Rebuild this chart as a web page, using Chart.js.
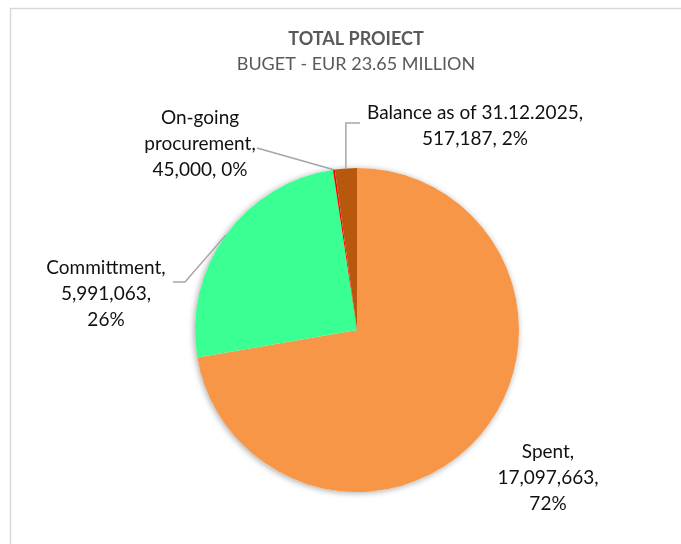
<!DOCTYPE html>
<html>
<head>
<meta charset="utf-8">
<script src="https://cdn.jsdelivr.net/npm/chart.js@4.4.1/dist/chart.umd.min.js"></script>
<style>
  html, body { margin: 0; padding: 0; background: #fff; }
  #wrap { position: relative; width: 681px; height: 544px; }
</style>
</head>
<body>
<div id="wrap"><canvas id="budgetChart" width="681" height="544"></canvas></div>
<script>
// data
const categories = ["Spent", "Committment", "On-going procurement", "Balance as of 31.12.2025"];
const amounts = [17097663, 5991063, 45000, 517187];
const percents = ["72%", "26%", "0%", "2%"];
const sliceColors = ["#F79646", "#3AFF92", "#FF0000", "#B8580C"];

const titleText = "TOTAL PROIECT";
const subtitleText = "BUGET - EUR 23.65 MILLION";

function fmt(n) {
  return n.toLocaleString("en-US");
}

// where each label sits (text centre x, first line y) and how its leader line bends
const labelLayout = [
  { lines: [categories[0] + ",", fmt(amounts[0]) + ",", percents[0]], x: 548, y: 452, leader: null },
  { lines: [categories[1] + ",", fmt(amounts[1]) + ",", percents[1]], x: 106, y: 268, leader: [[185, 282], [173, 282]] },
  { lines: ["On-going", "procurement,", fmt(amounts[2]) + ", " + percents[2]], x: 200, y: 118, leader: [[257, 148]] },
  { lines: [categories[3] + ",", fmt(amounts[3]) + ", " + percents[3]], x: 475, y: 113, leader: ["up", [348, 123], [360, 123]] },
];

/* draws the frame, title and the pie's soft shadow before the slices */
const backdrop = {
  id: "backdrop",
  beforeDatasetsDraw(chart) {
    const ctx = chart.ctx;
    ctx.save();
    ctx.strokeStyle = "#d9d9d9";
    ctx.lineWidth = 1.5;
    ctx.strokeRect(10.5, 8.5, 700, 600);

    ctx.fillStyle = "#595959";
    ctx.textAlign = "center";
    ctx.textBaseline = "middle";
    ctx.font = "bold 18px Lato";
    ctx.fillText(titleText, 356, 39);
    ctx.font = "18px Lato";
    ctx.fillText(subtitleText, 356, 64);

    const arc = chart.getDatasetMeta(0).data[0];
    ctx.beginPath();
    ctx.arc(arc.x, arc.y, arc.outerRadius, 0, Math.PI * 2);
    ctx.shadowColor = "rgba(0,0,0,0.35)";
    ctx.shadowBlur = 6;
    ctx.shadowOffsetX = -1;
    ctx.shadowOffsetY = 1;
    ctx.fillStyle = "#fff";
    ctx.fill();
    ctx.restore();
  },
  afterDatasetsDraw(chart) {
    const ctx = chart.ctx;
    const meta = chart.getDatasetMeta(0);
    ctx.save();
    ctx.strokeStyle = "#a6a6a6";
    ctx.lineWidth = 1.5;
    labelLayout.forEach((lab, i) => {
      if (!lab.leader) return;
      const arc = meta.data[i];
      const mid = (arc.startAngle + arc.endAngle) / 2;
      const sx = arc.x + Math.cos(mid) * arc.outerRadius;
      const sy = arc.y + Math.sin(mid) * arc.outerRadius;
      ctx.beginPath();
      ctx.moveTo(sx, sy);
      lab.leader.forEach((p) => {
        if (p === "up") return;
        if (lab.leader[0] === "up" && p === lab.leader[1]) {
          ctx.lineTo(sx, p[1]);
        }
        ctx.lineTo(p[0], p[1]);
      });
      ctx.stroke();
    });

    ctx.fillStyle = "#111";
    ctx.font = "19px Lato";
    ctx.textAlign = "center";
    ctx.textBaseline = "middle";
    labelLayout.forEach((lab) => {
      lab.lines.forEach((t, k) => ctx.fillText(t, lab.x, lab.y + k * 26));
    });
    ctx.restore();
  },
};

new Chart(document.getElementById("budgetChart"), {
  type: "pie",
  data: {
    labels: categories,
    datasets: [
      {
        data: amounts,
        backgroundColor: sliceColors,
        borderWidth: 0,
      },
    ],
  },
  options: {
    responsive: false,
    animation: false,
    layout: { padding: { left: 195, right: 162, top: 168, bottom: 52 } },
    plugins: {
      legend: { display: false },
      tooltip: { enabled: false },
    },
  },
  plugins: [backdrop],
});
</script>
</body>
</html>
